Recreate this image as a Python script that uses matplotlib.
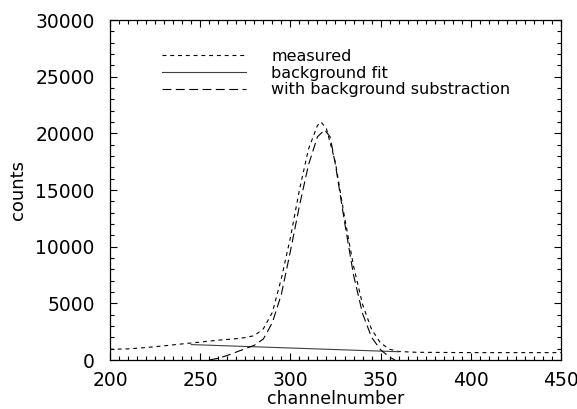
import numpy as np
import matplotlib.pyplot as plt
from matplotlib.ticker import MultipleLocator

# measured spectrum
ch_meas = [200, 210, 220, 230, 240, 250, 260, 270, 275, 280, 285, 290, 295, 300,
           305, 310, 315, 317, 320, 325, 330, 335, 340, 345, 350, 355, 360, 370,
           400, 450]
cnt_meas = [950, 980, 1100, 1250, 1420, 1580, 1750, 1880, 1980, 2150, 2750, 4200,
            7200, 10800, 15000, 18600, 20700, 21000, 20400, 17400, 12600, 8300,
            4900, 2700, 1500, 950, 750, 680, 650, 650]

# linear background under the peak
ch_bg = [245, 360]
cnt_bg = [1360, 730]

# peak after background subtraction
ch_sub = [255, 260, 265, 270, 275, 280, 285, 290, 295, 300, 305, 310, 315, 319,
          322, 325, 330, 335, 340, 345, 350, 355, 358]
cnt_sub = [0, 150, 400, 700, 1000, 1300, 1850, 3300, 5800, 9600, 13600, 17200,
           19700, 20300, 19700, 17200, 12200, 7500, 4100, 2000, 900, 250, 0]

plt.rcParams['font.family'] = 'DejaVu Sans'

fig = plt.figure(figsize=(5.77, 4.09), dpi=100)
ax = fig.add_axes([0.1906, 0.1198, 0.7817, 0.8312])

ax.plot(ch_meas, cnt_meas, c='k', lw=0.8, ls=(0, (3.5, 3.5)), label="measured")
ax.plot(ch_bg, cnt_bg, c='0.25', lw=0.8, label="background fit")
ax.plot(ch_sub, cnt_sub, c='k', lw=0.8, ls=(0, (8, 4)),
        label="with background substraction")

ax.set_xlim(200, 450)
ax.set_ylim(0, 30000)
ax.xaxis.set_major_locator(MultipleLocator(50))
ax.xaxis.set_minor_locator(MultipleLocator(5))
ax.yaxis.set_major_locator(MultipleLocator(5000))
ax.yaxis.set_minor_locator(MultipleLocator(1000))
ax.tick_params(which='both', direction='in', top=True, right=True,
               labelsize=13.5, width=0.8)
ax.tick_params(which='major', length=5)
ax.tick_params(axis='x', which='major', pad=8)
ax.tick_params(axis='y', which='major', pad=11)
ax.tick_params(which='minor', length=3)
for s in ax.spines.values():
    s.set_linewidth(0.9)

ax.set_xlabel("channelnumber", fontsize=12.5, labelpad=0)
ax.set_ylabel("counts", fontsize=13, labelpad=6)

ax.legend(loc='upper left', bbox_to_anchor=(0.115, 0.915), frameon=False,
          fontsize=11.5, handlelength=5.3, handletextpad=1.55,
          labelspacing=0.1, borderaxespad=0, borderpad=0)

plt.savefig("out.png", dpi=100)
